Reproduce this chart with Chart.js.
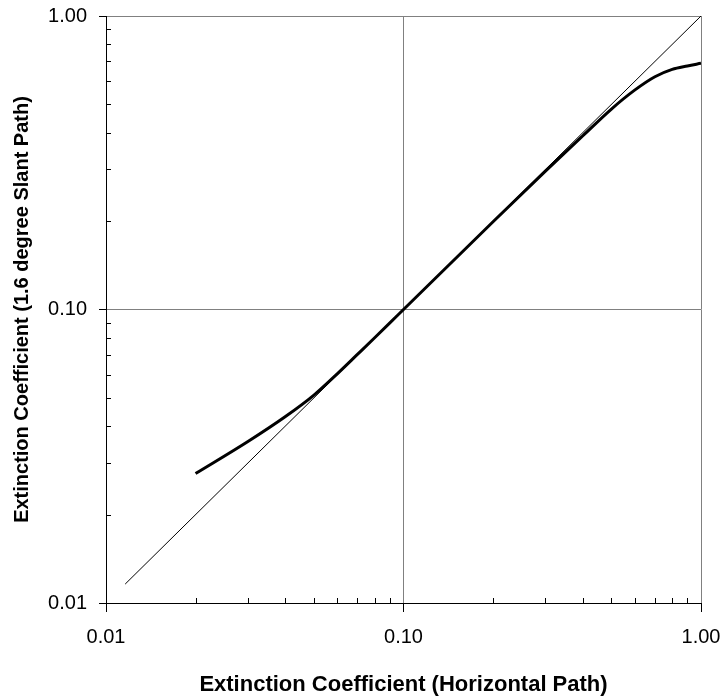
<!DOCTYPE html>
<html>
<head>
<meta charset="utf-8">
<script src="https://cdn.jsdelivr.net/npm/chart.js@4/dist/chart.umd.min.js"></script>
<style>
  html, body { margin: 0; padding: 0; background: #fff; }
  #wrap { width: 725px; height: 698px; }
</style>
</head>
<body>
<div id="wrap"><canvas id="chart" width="725" height="698"></canvas></div>
<script>
// horizontal path extinction vs 1.6 degree slant path extinction
const horizontal = [0.02, 0.03, 0.04, 0.05, 0.06, 0.07, 0.08, 0.09, 0.1, 0.2, 0.3, 0.4, 0.5, 0.6, 0.7, 0.8, 0.9, 1.0];
const slant = [0.0276, 0.0355, 0.0431, 0.0511, 0.0605, 0.0703, 0.0801, 0.0900, 0.100, 0.199, 0.296, 0.390, 0.482, 0.560, 0.621, 0.658, 0.676, 0.690];
const oneToOneX = [0.0116, 1.0];
const oneToOneY = [0.0116, 1.0];
const majorTicks = [0.01, 0.1, 1];
const minorTicks = [0.02, 0.03, 0.04, 0.05, 0.06, 0.07, 0.08, 0.09, 0.2, 0.3, 0.4, 0.5, 0.6, 0.7, 0.8, 0.9];

const FONT = "'Liberation Sans', Arial, sans-serif";

// short minor ticks pointing into the plot area
const minorTickPlugin = {
  id: "minorTicks",
  afterDatasetsDraw(chart) {
    const { ctx, chartArea, scales } = chart;
    ctx.save();
    ctx.strokeStyle = "#000";
    ctx.lineWidth = 1;
    ctx.beginPath();
    minorTicks.forEach((v) => {
      const px = Math.round(scales.x.getPixelForValue(v)) + 0.5;
      ctx.moveTo(px, chartArea.bottom);
      ctx.lineTo(px, chartArea.bottom - 5);
      const py = Math.round(scales.y.getPixelForValue(v)) + 0.5;
      ctx.moveTo(chartArea.left, py);
      ctx.lineTo(chartArea.left + 5, py);
    });
    ctx.stroke();
    ctx.restore();
  },
};

const gridColor = (c) => (c.tick && c.tick.value > 0.011 ? "#808080" : "rgba(0,0,0,0)");

new Chart(document.getElementById("chart").getContext("2d"), {
  type: "line",
  data: {
    datasets: [
      {
        label: "1:1",
        data: oneToOneX.map((x, i) => ({ x, y: oneToOneY[i] })),
        borderColor: "#000",
        borderWidth: 1,
        pointRadius: 0,
        tension: 0,
      },
      {
        label: "Slant path",
        data: horizontal.map((x, i) => ({ x, y: slant[i] })),
        borderColor: "#000",
        borderWidth: 3,
        pointRadius: 0,
        cubicInterpolationMode: "monotone",
      },
    ],
  },
  options: {
    responsive: false,
    animation: false,
    layout: { padding: { top: 16, right: 24, bottom: 0, left: 0 } },
    plugins: { legend: { display: false }, tooltip: { enabled: false } },
    scales: {
      x: {
        type: "logarithmic",
        min: 0.01,
        max: 1,
        afterBuildTicks: (s) => { s.ticks = majorTicks.map((v) => ({ value: v })); },
        afterFit: (s) => {
          s.height = 95;
          s.paddingLeft = 0;
          s.paddingRight = 0;
        },
        grid: { color: gridColor, tickColor: "#000", tickLength: 9, lineWidth: 1 },
        border: { color: "#000", width: 1 },
        ticks: {
          color: "#000",
          padding: 13,
          maxRotation: 0,
          font: { family: FONT, size: 20 },
          callback: (v) => Number(v).toFixed(2),
        },
        title: {
          display: true,
          text: "Extinction Coefficient (Horizontal Path)",
          color: "#000",
          font: { family: FONT, size: 22, weight: "bold" },
          padding: { top: 0, bottom: 0 },
        },
      },
      y: {
        type: "logarithmic",
        min: 0.01,
        max: 1,
        afterBuildTicks: (s) => { s.ticks = majorTicks.map((v) => ({ value: v })); },
        afterFit: (s) => {
          s.width = 106;
          s.paddingTop = 0;
          s.paddingBottom = 0;
        },
        grid: { color: gridColor, tickColor: "#000", tickLength: 7, lineWidth: 1 },
        border: { color: "#000", width: 1 },
        ticks: {
          color: "#000",
          padding: 12,
          font: { family: FONT, size: 20 },
          callback: (v) => Number(v).toFixed(2),
        },
        title: {
          display: true,
          text: "Extinction Coefficient (1.6 degree Slant Path)",
          color: "#000",
          font: { family: FONT, size: 20, weight: "bold" },
          padding: { top: 10, bottom: 0 },
        },
      },
    },
  },
  plugins: [minorTickPlugin],
});
</script>
</body>
</html>
